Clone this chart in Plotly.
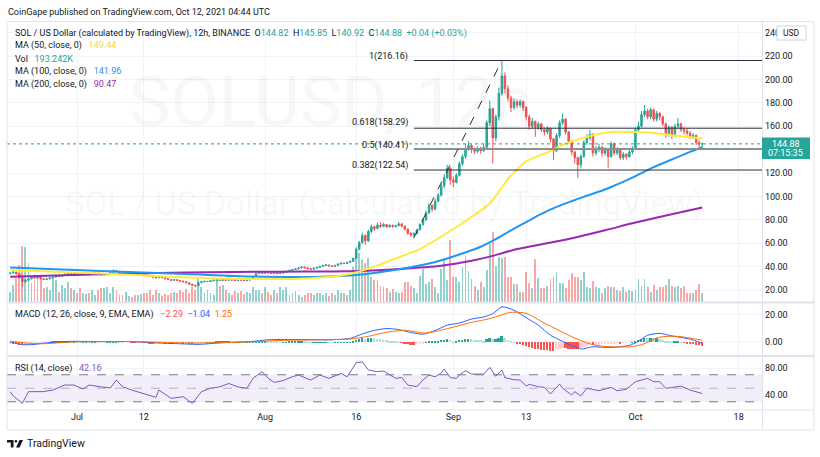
import plotly.graph_objects as go
import pandas as pd

# ---------------- data ----------------
closes = [34.5, 35.3, 33.8, 30.5, 27.0, 28.3, 29.5, 30.8, 30.2, 31.0,
          29.6, 29.0, 29.5, 30.3, 31.0, 32.0, 31.6, 32.4, 33.5, 34.0,
          33.2, 34.3, 33.6, 33.0, 33.8, 34.2, 33.5, 34.0, 34.5, 33.6,
          33.0, 33.4, 33.9, 35.0, 36.6, 35.8, 34.8, 33.6, 34.0, 34.4,
          33.9, 33.4, 33.6, 34.0, 33.2, 32.3, 31.8, 31.0, 30.4, 31.2,
          30.5, 29.6, 29.0, 28.3, 28.8, 28.2, 27.6, 27.0, 26.2, 25.0,
          24.0, 23.6, 26.2, 27.0, 27.4, 27.2, 27.8, 28.4, 28.6, 28.2,
          28.7, 28.3, 28.8, 28.3, 28.0, 28.6, 28.4, 28.0, 28.5, 28.9,
          31.5, 34.2, 35.0, 34.3, 35.5, 34.6, 34.2, 34.8, 34.0, 34.5,
          35.2, 36.0, 36.8, 37.5, 38.0, 38.8, 39.6, 39.0, 38.2, 37.8,
          38.6, 39.3, 40.2, 40.8, 41.4, 40.6, 40.2, 41.0, 42.2, 43.0,
          42.6, 43.6, 44.5, 47.0, 55.0, 60.5, 66.5, 62.0, 70.0, 74.0,
          72.5, 75.5, 74.5, 76.0, 74.0, 75.2, 74.2, 75.0, 76.5, 74.5,
          72.0, 68.5, 67.0, 68.0, 71.5, 76.0, 80.0, 86.0, 92.0, 89.0,
          96.0, 101.0, 109.0, 116.0, 124.0, 114.0, 112.0, 118.0, 128.0, 134.0,
          141.0, 143.5, 140.0, 138.5, 141.0, 139.0, 142.0, 163.0, 175.0, 150.0,
          168.0, 188.0, 203.0, 192.0, 184.0, 176.0, 181.0, 178.0, 181.0, 176.0,
          168.0, 160.0, 164.0, 159.0, 162.0, 157.0, 155.0, 158.0, 149.0, 139.0,
          152.0, 163.0, 166.0, 155.0, 147.0, 138.0, 133.0, 127.0, 134.0, 146.0,
          150.0, 153.0, 137.0, 140.0, 142.0, 137.0, 140.0, 134.0, 145.0, 137.0,
          140.0, 133.0, 136.0, 134.0, 138.0, 141.0, 157.0, 160.0, 170.0, 173.0,
          168.0, 174.0, 166.0, 171.0, 168.0, 162.0, 153.0, 159.0, 152.0, 160.0,
          162.0, 157.0, 156.0, 154.0, 151.0, 152.0, 146.0, 144.84, 144.88]

highs = [35.2, 35.8, 35.6, 34.2, 31.0, 29.5, 30.2, 31.5, 31.4, 31.8,
         31.3, 30.0, 30.0, 30.8, 31.5, 32.6, 32.5, 33.0, 34.0, 34.8,
         34.3, 34.8, 34.6, 34.0, 34.2, 34.8, 34.5, 34.4, 35.0, 34.7,
         33.9, 33.8, 34.3, 35.5, 37.6, 37.0, 36.0, 35.0, 34.5, 34.8,
         34.6, 34.1, 34.0, 34.4, 34.2, 33.4, 32.6, 32.0, 31.2, 31.6,
         31.4, 30.7, 29.8, 29.2, 29.2, 29.0, 28.4, 27.8, 27.2, 26.4,
         25.2, 24.6, 26.6, 27.5, 27.9, 27.7, 28.2, 28.8, 29.0, 28.8,
         29.1, 28.9, 29.2, 29.0, 28.6, 29.0, 28.9, 28.6, 28.9, 29.4,
         32.0, 35.0, 35.8, 35.3, 36.2, 35.8, 34.9, 35.2, 35.0, 35.0,
         35.6, 36.5, 37.3, 38.0, 38.6, 39.3, 40.2, 39.9, 39.2, 38.5,
         39.0, 39.8, 40.7, 41.3, 42.0, 41.6, 40.9, 41.4, 42.7, 43.5,
         43.4, 44.1, 45.2, 47.8, 56.5, 62.0, 69.0, 67.5, 71.5, 76.0,
         75.0, 77.5, 78.0, 77.5, 76.5, 76.2, 76.0, 75.8, 78.0, 77.0,
         75.0, 72.5, 69.5, 69.5, 72.5, 77.0, 81.5, 88.0, 94.0, 93.0,
         98.0, 103.0, 111.0, 119.0, 127.0, 125.0, 117.0, 120.0, 130.0, 136.0,
         145.0, 147.0, 145.0, 142.0, 143.0, 142.5, 145.0, 165.0, 182.0, 176.0,
         170.0, 193.0, 216.16, 206.0, 195.0, 186.0, 184.0, 183.0, 183.0, 182.0,
         177.0, 170.0, 167.0, 165.0, 164.0, 163.0, 159.0, 160.0, 159.0, 150.0,
         154.0, 165.0, 171.0, 167.0, 156.0, 148.0, 139.0, 134.0, 136.0, 148.0,
         153.0, 157.0, 154.0, 143.0, 145.0, 143.0, 142.0, 141.0, 147.0, 146.0,
         142.0, 141.0, 138.0, 137.0, 140.0, 143.0, 159.0, 164.0, 173.0, 178.0,
         175.0, 176.0, 175.0, 173.0, 172.0, 169.0, 163.0, 161.0, 160.0, 162.0,
         167.0, 163.0, 159.0, 158.0, 156.0, 154.0, 153.0, 148.0, 145.85]

lows = [33.5, 34.2, 33.2, 29.8, 22.5, 25.8, 27.5, 29.0, 29.6, 29.8,
        29.0, 28.3, 28.5, 29.2, 30.0, 30.8, 31.0, 31.3, 32.2, 33.2,
        32.8, 33.0, 33.2, 32.5, 32.8, 33.5, 33.2, 33.2, 33.8, 33.3,
        32.6, 32.7, 33.1, 33.7, 34.8, 35.3, 34.4, 33.2, 33.3, 33.7,
        33.5, 33.0, 33.1, 33.4, 32.9, 32.0, 31.4, 30.6, 30.0, 30.2,
        30.2, 29.3, 28.6, 28.0, 28.1, 27.9, 27.2, 26.6, 25.8, 24.6,
        23.2, 22.4, 23.4, 25.9, 26.8, 26.8, 27.0, 27.6, 28.1, 27.9,
        28.0, 28.0, 28.1, 28.0, 27.7, 27.8, 28.0, 27.6, 27.8, 28.3,
        28.7, 31.2, 33.6, 33.8, 34.0, 34.2, 33.6, 33.9, 33.5, 33.7,
        34.2, 35.0, 35.7, 36.5, 37.2, 37.7, 38.5, 38.5, 37.7, 37.3,
        37.6, 38.4, 39.1, 40.0, 40.6, 40.1, 39.8, 40.0, 40.8, 42.0,
        42.1, 42.4, 43.4, 44.2, 46.5, 54.0, 59.5, 58.5, 61.0, 68.5,
        70.5, 72.0, 73.0, 73.5, 73.0, 73.2, 73.2, 73.5, 74.5, 73.5,
        71.0, 67.0, 65.5, 64.66, 67.5, 71.0, 75.0, 79.0, 85.0, 87.0,
        88.0, 95.0, 100.0, 107.0, 115.0, 110.0, 108.0, 111.0, 117.0, 126.0,
        132.0, 139.0, 137.0, 136.0, 137.0, 136.5, 138.0, 141.0, 160.0, 128.0,
        147.0, 165.0, 186.0, 188.0, 181.0, 172.0, 174.0, 175.0, 176.0, 173.0,
        165.0, 157.0, 158.0, 151.0, 157.0, 155.0, 152.0, 153.0, 146.0, 131.0,
        138.0, 150.0, 161.0, 153.0, 145.0, 135.0, 128.0, 115.7, 124.0, 133.0,
        144.0, 148.0, 134.0, 135.0, 138.0, 134.0, 135.0, 124.0, 133.0, 135.0,
        135.0, 131.0, 131.0, 131.5, 133.0, 136.0, 140.0, 155.0, 159.0, 168.0,
        166.0, 166.0, 164.0, 164.0, 165.0, 160.0, 150.0, 151.0, 149.0, 151.0,
        158.0, 155.0, 153.0, 152.0, 149.0, 149.0, 144.0, 142.0, 140.92]

first_open = 34.0
last_open = 144.82

volumes_k = [215, 365, 515, 794, 1202, 1181, 837, 408, 472, 537,
             515, 301, 322, 258, 515, 472, 215, 365, 301, 429,
             301, 258, 193, 301, 193, 172, 193, 258, 150, 258,
             301, 301, 322, 193, 322, 258, 150, 150, 215, 129,
             107, 150, 150, 172, 193, 193, 258, 150, 258, 193,
             129, 172, 150, 193, 215, 193, 258, 215, 279, 193,
             322, 258, 537, 322, 193, 258, 193, 150, 472, 344,
             365, 258, 193, 150, 236, 193, 236, 172, 215, 193,
             322, 258, 258, 193, 322, 215, 150, 258, 193, 322,
             258, 322, 150, 193, 236, 150, 107, 150, 193, 193,
             150, 193, 193, 150, 193, 129, 193, 150, 258, 193,
             193, 150, 258, 751, 1009, 1052, 902, 837, 945, 537,
             472, 472, 344, 322, 301, 215, 279, 215, 193,
             215, 429, 429, 344, 301, 193, 558, 709, 386, 429,
             494, 322, 193, 709, 902, 472, 1331, 537, 537, 429,
             751, 1009, 666, 494, 344, 258, 429, 322, 687, 1245,
             1503, 773, 966, 945, 966, 537, 537, 386, 386, 215,
             215, 644, 408, 301, 923, 515, 301, 301, 344, 494,
             537, 644, 408, 408, 301, 472, 623, 537, 537, 472,
             644, 322, 301, 451, 322, 301, 193, 301, 344, 322,
             322, 258, 236, 322, 215, 258, 236, 258, 494, 344,
             494, 322, 215, 365, 258, 322, 322, 365, 494, 344,
             322, 344, 301, 344, 193, 193, 193, 258, 386, 193.242]

macd_hist = [-0.8, -1.0, -1.2, -1.5, -1.8, -1.6, -1.3, -1.0, -0.7, -0.5,
             -0.4, -0.3, -0.1, 0.2, 0.4, 0.6, 0.6, 0.7, 0.8, 0.8,
             0.6, 0.6, 0.4, 0.3, 0.3, 0.3, 0.2, 0.2, 0.2, 0.1,
             0.0, 0.0, 0.1, 0.2, 0.4, 0.4, 0.3, 0.1, 0.0, 0.0,
             -0.1, -0.2, -0.2, -0.1, -0.2, -0.3, -0.4, -0.5, -0.5, -0.4,
             -0.4, -0.5, -0.5, -0.6, -0.5, -0.5, -0.5, -0.6, -0.6, -0.7,
             -0.8, -0.8, -0.4, -0.2, 0.0, 0.1, 0.2, 0.3, 0.4, 0.4,
             0.4, 0.4, 0.4, 0.3, 0.3, 0.3, 0.2, 0.1, 0.1, 0.1,
             0.4, 0.8, 1.0, 1.0, 1.0, 0.9, 0.7, 0.6, 0.4, 0.3,
             0.3, 0.3, 0.4, 0.4, 0.5, 0.5, 0.6, 0.5, 0.3, 0.2,
             0.2, 0.2, 0.3, 0.3, 0.3, 0.2, 0.1, 0.1, 0.2, 0.2,
             0.2, 0.2, 0.3, 0.6, 1.5, 2.3, 3.0, 2.8, 3.2, 3.4,
             3.0, 2.8, 2.4, 2.1, 1.6, 1.2, 0.8, 0.5, 0.3, -0.2,
             -0.6, -1.1, -1.5, -1.6, -1.4, -1.0, -0.5, 0.1, 0.6, 0.9,
             1.2, 1.4, 1.7, 2.0, 2.3, 1.6, 1.2, 1.2, 1.6, 2.0,
             2.6, 2.8, 2.4, 2.0, 1.8, 1.5, 1.4, 2.3, 3.2, 2.4,
             2.5, 3.4, 4.6, 3.6, 2.0, 1.0, 0.2, -0.5, -1.2, -2.0,
             -2.8, -3.5, -4.0, -4.6, -5.0, -5.3, -5.6, -5.8, -6.0, -6.2,
             -5.6, -4.6, -4.2, -4.3, -4.5, -4.7, -4.8, -4.9, -4.2, -3.2,
             -2.4, -1.7, -2.0, -1.8, -1.5, -1.3, -1.0, -1.0, -0.4, -0.4,
             -0.3, -0.4, -0.2, -0.2, 0.0, 0.3, 1.2, 1.8, 2.6, 3.2,
             3.1, 3.4, 3.0, 3.0, 2.6, 2.0, 1.1, 0.9, 0.3, 0.4,
             0.4, 0.1, -0.3, -0.6, -1.0, -1.2, -1.7, -2.0, -2.29]

ma50_bar = [0, 30, 55, 80, 95, 108, 113, 120, 128, 135, 145, 150, 155, 158, 161,
            164, 167, 170, 177, 183, 191, 198, 205, 211, 219, 228]
ma50_val = [37.0, 34.0, 31.2, 29.4, 29.6, 32.0, 34.5, 40.0, 48.0, 55.0, 70.5, 79.0,
            88.0, 94.0, 104.0, 115.0, 123.0, 130.0, 137.5, 145.0, 151.5, 155.0,
            155.0, 154.5, 152.0, 149.44]
ma100_bar = [0, 30, 58, 80, 100, 115, 125, 132, 140, 147, 155, 160, 165, 170, 175,
             180, 185, 190, 197, 205, 212, 218, 224, 228]
ma100_val = [39.3, 36.2, 33.6, 31.5, 31.2, 33.0, 36.5, 39.5, 44.0, 49.5, 57.0, 63.5,
             71.0, 78.0, 85.0, 91.0, 96.0, 100.5, 107.0, 116.0, 125.0, 131.5, 138.0, 141.96]
ma200_bar = [0, 30, 58, 88, 115, 128, 142, 152, 158, 167, 184, 196, 205, 215, 228]
ma200_val = [31.4, 33.4, 35.0, 35.7, 36.3, 38.0, 40.8, 45.0, 48.5, 55.0, 63.6, 71.0,
             77.0, 83.0, 90.47]

macd_bar = [0, 4, 8, 14, 20, 30, 40, 50, 58, 62, 70, 80, 86, 95, 105, 112, 116, 120,
            124, 128, 132, 136, 140, 144, 148, 152, 156, 159, 162, 166, 170, 174, 178,
            182, 186, 188, 192, 196, 200, 204, 207, 210, 214, 218, 222, 225, 228]
macd_val = [0.0, -2.0, -1.8, -0.2, 0.5, 0.3, 0.3, -0.8, -1.5, -1.8, -0.5, 0.5, 1.8,
            1.8, 1.6, 2.6, 6.0, 8.6, 10.0, 9.2, 7.0, 5.8, 8.5, 12.5, 14.0, 17.0, 18.5,
            21.0, 26.0, 23.5, 18.0, 12.5, 5.0, 0.5, -3.5, -5.2, -3.5, -4.0, -3.8, -2.5,
            0.5, 5.0, 6.4, 4.5, 3.0, 1.5, -1.04]
signal_bar = [0, 6, 12, 20, 40, 60, 75, 90, 112, 118, 124, 130, 137, 146, 152, 158,
              165, 170, 176, 180, 184, 188, 192, 196, 204, 208, 214, 220, 228]
signal_val = [0.6, -0.9, -1.2, 0.0, 0.3, -0.8, -0.2, 1.2, 2.2, 4.2, 7.2, 8.7, 6.6,
              11.0, 14.5, 17.3, 22.0, 21.2, 14.0, 9.5, 5.0, 1.0, -2.0, -3.3, -3.6,
              -2.0, 3.6, 4.2, 1.25]

rsi_bar = [0, 1, 4, 6, 11, 14, 18, 21, 24, 26, 30, 33, 35, 37, 40, 44, 48, 49, 53, 57,
           60, 63, 66, 69, 72, 75, 78, 80, 83, 85, 87, 90, 93, 95, 99, 102, 105, 109,
           111, 114, 116, 118, 121, 123, 125, 127, 129, 131, 134, 136, 138, 140, 142,
           143, 145, 147, 148, 150, 152, 156, 158, 160, 162, 163, 166, 168, 170, 171,
           174, 176, 178, 181, 182, 185, 186, 188, 190, 192, 194, 198, 200, 203, 206,
           210, 212, 214, 216, 218, 221, 224, 228]
rsi_val = [44.9, 38.5, 27.6, 44.9, 45.0, 47.4, 54.8, 54.8, 48.9, 54.8,
           52.0, 50.5, 62.2, 52.3, 47.4, 42.5, 36.5, 47.4, 35.0, 37.5,
           27.6, 45.0, 50.0, 52.0, 57.1, 52.0, 50.0, 64.7, 74.6, 64.7,
           58.7, 61.5, 67.2, 69.6, 62.2, 69.6, 64.7, 72.0, 67.0, 87.9,
           89.0, 77.0, 74.6, 75.5, 69.6, 64.7, 66.0, 54.8, 52.3, 62.2,
           69.6, 67.0, 72.6, 78.5, 65.7, 64.7, 69.6, 76.0, 71.0, 71.0,
           81.0, 67.7, 77.0, 65.7, 62.7, 62.2, 53.3, 55.8, 52.3, 51.4,
           41.5, 56.3, 50.0, 40.0, 45.0, 38.5, 50.0, 48.4, 46.4, 51.4,
           46.4, 48.4, 59.7, 64.7, 59.7, 59.7, 50.0, 51.0, 53.3, 47.4, 42.16]

fib_levels = [216.16, 158.29, 140.41, 122.54]
fib_labels = ["1(216.16)", "0.618(158.29)", "0.5(140.41)", "0.382(122.54)"]
fib_low, fib_high = 64.66, 216.16
fib_start_bar, fib_end_bar = 133, 162
last_price = 144.88

x_tick_dates = ["2021-07-01", "2021-07-12", "2021-08-01", "2021-08-16",
                "2021-09-01", "2021-09-13", "2021-10-01", "2021-10-18"]
x_tick_text = ["Jul", "12", "Aug", "16", "Sep", "13", "Oct", "18"]
price_ticks = [20, 40, 60, 80, 100, 120, 160, 180, 200, 220, 240]

# ---------------- derived ----------------
times = pd.date_range("2021-06-20 00:00", periods=len(closes), freq="12h")
opens = [first_open] + closes[:-1]
opens[-1] = last_open

UP, DN = "#26a69a", "#ef5350"
vol_colors = ["rgba(38,166,154,0.5)" if c >= o else "rgba(239,83,80,0.5)"
              for o, c in zip(opens, closes)]
hist_colors = []
for i, h in enumerate(macd_hist):
    prev = macd_hist[i - 1] if i > 0 else h
    if h >= 0:
        hist_colors.append("#26a69a" if h >= prev else "#b2dfdb")
    else:
        hist_colors.append("#ff5252" if h < prev else "#ffcdd2")

def tsel(idx):
    return [times[i] for i in idx]

# ---------------- geometry (pixels -> paper) ----------------
PL, PR, PT, PB = 7, 762, 22, 410
def px(v): return (v - PL) / (PR - PL)
def py(v): return (PB - v) / (PB - PT)

t_left = pd.Timestamp("2021-07-01") - pd.Timedelta(days=(77 - PL) / 6.07)
t_right = pd.Timestamp("2021-07-01") + pd.Timedelta(days=(PR - 77) / 6.07)

main_dom = [py(302), 1]
macd_dom = [py(355), py(303.5)]
rsi_dom = [0, py(357)]

FONT = "Roboto, 'Open Sans', sans-serif"
TXT = "#131722"
GRID = "#f0f3fa"
BORDER = "#e0e3eb"
bw = 12 * 3600 * 1000

fig = go.Figure()
fig.add_trace(go.Bar(x=times, y=volumes_k, marker=dict(color=vol_colors, line=dict(width=0)),
                     width=0.62 * bw, xaxis="x", yaxis="y", hoverinfo="skip"))
fig.add_trace(go.Candlestick(x=times, open=opens, high=highs, low=lows, close=closes,
                             increasing=dict(line=dict(color=UP, width=1), fillcolor=UP),
                             decreasing=dict(line=dict(color=DN, width=1), fillcolor=DN),
                             whiskerwidth=0, xaxis="x", yaxis="y5", hoverinfo="skip"))
for bars, vals, col in [(ma200_bar, ma200_val, "#9c27b0"), (ma100_bar, ma100_val, "#2196f3"),
                        (ma50_bar, ma50_val, "#ffeb3b")]:
    fig.add_trace(go.Scatter(x=tsel(bars), y=vals, mode="lines",
                             line=dict(color=col, width=2, shape="spline", smoothing=0.8),
                             xaxis="x", yaxis="y5", hoverinfo="skip"))

fig.add_trace(go.Bar(x=times, y=macd_hist, marker=dict(color=hist_colors, line=dict(width=0)),
                     width=0.62 * bw, xaxis="x", yaxis="y2", hoverinfo="skip"))
fig.add_trace(go.Scatter(x=tsel(macd_bar), y=macd_val, mode="lines",
                         line=dict(color="#2962ff", width=1, shape="spline", smoothing=0.6),
                         xaxis="x", yaxis="y2", hoverinfo="skip"))
fig.add_trace(go.Scatter(x=tsel(signal_bar), y=signal_val, mode="lines",
                         line=dict(color="#ff6d00", width=1, shape="spline", smoothing=0.6),
                         xaxis="x", yaxis="y2", hoverinfo="skip"))
fig.add_trace(go.Scatter(x=tsel(rsi_bar), y=rsi_val, mode="lines",
                         line=dict(color="#7e57c2", width=1),
                         xaxis="x", yaxis="y3", hoverinfo="skip"))

shapes = []
shapes.append(dict(type="rect", xref="paper", yref="y3", x0=0, x1=1, y0=30, y1=70,
                   fillcolor="rgba(126,87,194,0.1)", line=dict(width=0), layer="below"))
for lv, col in [(70, "#787b86"), (50, "rgba(120,123,134,0.5)"), (30, "#787b86")]:
    shapes.append(dict(type="line", xref="paper", yref="y3", x0=0, x1=1, y0=lv, y1=lv,
                       line=dict(color=col, width=1, dash="dash")))
for lv in fib_levels:
    mid = abs(lv - 140.41) < 0.01
    shapes.append(dict(type="line", xref="x", yref="y5", x0=times[fib_start_bar], x1=t_right,
                       y0=lv, y1=lv, line=dict(color="#8f8f8f" if mid else "#2a2e39",
                                               width=2 if mid else 1)))
shapes.append(dict(type="line", xref="x", yref="y5", x0=times[fib_start_bar], y0=fib_low,
                   x1=times[fib_end_bar], y1=fib_high,
                   line=dict(color="#2a2e39", width=1, dash="dash")))
shapes.append(dict(type="line", xref="paper", yref="y5", x0=0, x1=1, y0=last_price, y1=last_price,
                   line=dict(color=UP, width=1, dash="dot")))

def hline(y, x0=PL, x1=814, w=1):
    return dict(type="line", xref="paper", yref="paper", x0=px(x0), x1=px(x1), y0=py(y), y1=py(y),
                line=dict(color=BORDER, width=w), layer="above")
def vline(x, y0=22, y1=430, w=1):
    return dict(type="line", xref="paper", yref="paper", x0=px(x), x1=px(x), y0=py(y0), y1=py(y1),
                line=dict(color=BORDER, width=w), layer="above")
shapes += [hline(21.5), hline(430), hline(410), hline(302.5, w=2), hline(356, w=2),
           vline(7), vline(814), vline(762.5)]
shapes.append(dict(type="rect", xref="paper", yref="paper", x0=px(762), x1=px(810),
                   y0=py(159), y1=py(137.5), fillcolor=UP, line=dict(width=0), layer="above"))
shapes.append(dict(type="rect", xref="paper", yref="paper", x0=px(777), x1=px(806),
                   y0=py(40), y1=py(26), fillcolor="white", line=dict(color="#d1d4dc", width=1),
                   layer="above"))
logo = "M {},{} L {},{} L {},{} L {},{} L {},{} L {},{} Z".format(
    px(7), py(440), px(13.5), py(440), px(13.5), py(447.5), px(10.8), py(447.5),
    px(10.8), py(442.6), px(7), py(442.6))
shapes.append(dict(type="path", xref="paper", yref="paper", path=logo, fillcolor=TXT,
                   line=dict(width=0)))
shapes.append(dict(type="circle", xref="paper", yref="paper", x0=px(14.6), x1=px(17.2),
                   y0=py(442.6), y1=py(440), fillcolor=TXT, line=dict(width=0)))
slash = "M {},{} L {},{} L {},{} L {},{} Z".format(
    px(19.5), py(440), px(23), py(440), px(19.6), py(447.5), px(16.1), py(447.5))
shapes.append(dict(type="path", xref="paper", yref="paper", path=slash, fillcolor=TXT,
                   line=dict(width=0)))

ann = []
def text(x, y, s, size=9, color=TXT, xanchor="left", yanchor="middle"):
    ann.append(dict(x=px(x), y=py(y), xref="paper", yref="paper", text=s, showarrow=False,
                    xanchor=xanchor, yanchor=yanchor, font=dict(family=FONT, size=size, color=color),
                    borderpad=0))
def c(s, col):
    return "<span style='color:{}'>{}</span>".format(col, s)
NB = "\u00a0"

text(128, 102, "SOLUSD, 12h", size=70, color="rgba(19,23,34,0.035)")
text(384, 203, "SOL / US Dollar (calculated by TradingView)", size=33,
     color="rgba(19,23,34,0.035)", xanchor="center")

text(7, 12, "CoinGape published on TradingView.com, Oct 12, 2021 04:44 UTC", size=9)
text(14, 33, "SOL / US Dollar (calculated by TradingView), 12h, BINANCE" + NB * 2 +
     "O" + c("144.82", UP) + NB * 2 + "H" + c("145.85", UP) + NB * 2 + "L" + c("140.92", UP) +
     NB * 2 + "C" + c("144.88", UP) + NB * 2 + c("+0.04 (+0.03%)", UP), size=9)
text(14, 45.7, "MA (50, close, 0)" + NB * 3 + c("149.44", "#f7d733"), size=9)
text(14, 59, "Vol" + NB * 3 + c("193.242K", UP), size=9)
text(14, 71.7, "MA (100, close, 0)" + NB * 3 + c("141.96", "#2196f3"), size=9)
text(14, 84.3, "MA (200, close, 0)" + NB * 3 + c("90.47", "#9c27b0"), size=9)
text(14, 314.5, "MACD (12, 26, close, 9, EMA, EMA)" + NB * 3 + c("\u22122.29", "#ff5252") + NB * 2 +
     c("\u22121.04", "#2962ff") + NB * 2 + c("1.25", "#ff6d00"), size=9)
text(14, 368.5, "RSI (14, close)" + NB * 3 + c("42.16", "#7e57c2"), size=9)

for lab, lv, yy in zip(fib_labels, fib_levels, [56, 122.7, 145, 165.5]):
    text(409, yy, lab, size=9, xanchor="right")

text(786, 144, "144.88", size=9, color="white", xanchor="center")
text(786, 153, "07:15:35", size=9, color="white", xanchor="center")
text(791.5, 33, "USD", size=8.5, xanchor="center")
text(26, 443.5, "TradingView", size=10.5)

axis_common = dict(showgrid=True, gridcolor=GRID, zeroline=False, ticks="", showline=False,
                   tickfont=dict(family=FONT, size=9, color=TXT), fixedrange=True)

fig.update_layout(
    width=820, height=457, margin=dict(l=PL, r=820 - PR, t=PT, b=457 - PB),
    paper_bgcolor="white", plot_bgcolor="white", showlegend=False, bargap=0,
    font=dict(family=FONT, size=9, color=TXT),
    xaxis=dict(type="date", range=[t_left, t_right], anchor="y3", tickvals=x_tick_dates,
               ticktext=x_tick_text, rangeslider=dict(visible=False), **axis_common),
    yaxis=dict(domain=main_dom, range=[0, 6012], visible=False, fixedrange=True),
    yaxis5=dict(overlaying="y", side="right", anchor="x", range=[9.74, 249.06],
                tickvals=price_ticks, tickformat=".2f", ticklabelstandoff=2, **axis_common),
    yaxis2=dict(domain=macd_dom, anchor="x", side="right", range=[-9.63, 28.5],
                tickvals=[0, 20], tickformat=".2f", ticklabelstandoff=2, **axis_common),
    yaxis3=dict(domain=rsi_dom, anchor="x", side="right", range=[17.8, 96.3],
                tickvals=[40, 80], tickformat=".2f", ticklabelstandoff=2, **axis_common),
    shapes=shapes, annotations=ann,
)

fig.write_html("out.html", post_script="document.body.style.margin='0';",
               config={"displayModeBar": False})
